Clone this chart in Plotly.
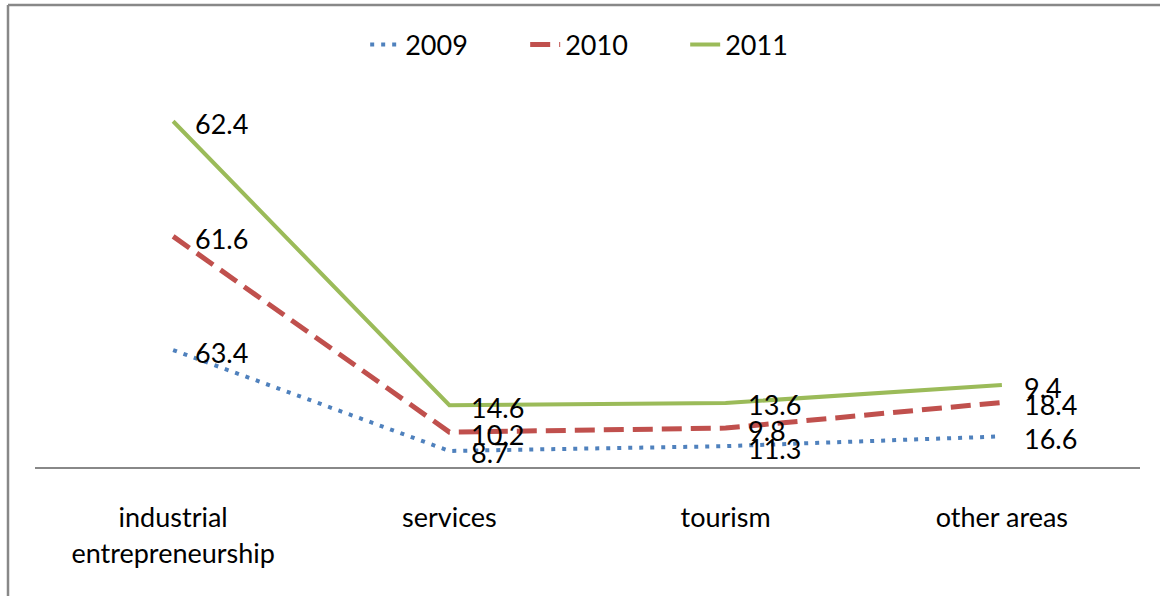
import numpy as np
import plotly.graph_objects as go

categories = ["industrial<br>entrepreneurship", "services", "tourism", "other areas"]
years = ["2009", "2010", "2011"]
v2009 = [63.4, 8.7, 11.3, 16.6]
v2010 = [61.6, 10.2, 9.8, 18.4]
v2011 = [62.4, 14.6, 13.6, 9.4]

colors = ["#4F81BD", "#C0504D", "#9BBB59"]
dashes = ["4px,7px", "20px,9px", "solid"]
widths = [4, 5, 4]

series = [v2009, v2010, v2011]
stacked = np.cumsum(np.array(series), axis=0)

FONT = "Lato, Carlito, Calibri, sans-serif"
FS = 27

fig = go.Figure()
annotations = []
for name, vals, cum, c, d, w in zip(years, series, stacked, colors, dashes, widths):
    fig.add_trace(go.Scatter(
        x=categories, y=cum, name=name, mode="lines",
        line=dict(color=c, dash=d, width=w),
        cliponaxis=False,
    ))
    for cat, v, yv in zip(categories, vals, cum):
        annotations.append(dict(
            x=cat, y=yv, xref="x", yref="y", text=f"{v:.1f}",
            showarrow=False, xanchor="left", yanchor="middle",
            xshift=20, yshift=-2,
            font=dict(family=FONT, size=FS, color="black"),
        ))

L, R, T, B = 35, 20, 98, 129
W, H = 1160, 596
ph = H - T - B
pw = W - L - R

top_y = 1 + (T - 5) / ph
left_x = (8 - L) / pw

fig.update_layout(
    width=W, height=H,
    margin=dict(l=L, r=R, t=T, b=B, autoexpand=False),
    paper_bgcolor="white", plot_bgcolor="white",
    font=dict(family=FONT, size=FS, color="black"),
    showlegend=True,
    legend=dict(orientation="h", x=0.516, xanchor="center", y=1 + (T - 45) / ph,
                yanchor="middle", font=dict(size=FS), bgcolor="rgba(0,0,0,0)",
                entrywidth=115, traceorder="normal"),
    xaxis=dict(showline=True, linecolor="#888888", linewidth=2, showgrid=False,
               range=[-0.5, 3.5], ticks="", zeroline=False, automargin=False,
               tickfont=dict(size=FS), ticklabelstandoff=26),
    yaxis=dict(range=[0, 200], visible=False, showgrid=False, automargin=False),
    annotations=annotations,
    shapes=[
        dict(type="line", xref="paper", yref="paper",
             x0=left_x, x1=left_x, y0=top_y, y1=-(B + 5) / ph,
             line=dict(color="#888888", width=2.5)),
        dict(type="line", xref="paper", yref="paper",
             x0=left_x, x1=(W + 5 - L) / pw, y0=top_y, y1=top_y,
             line=dict(color="#888888", width=2.5)),
    ],
)

fig.write_html("out.html", config={"displayModeBar": False},
               post_script="document.body.style.margin='0';")
